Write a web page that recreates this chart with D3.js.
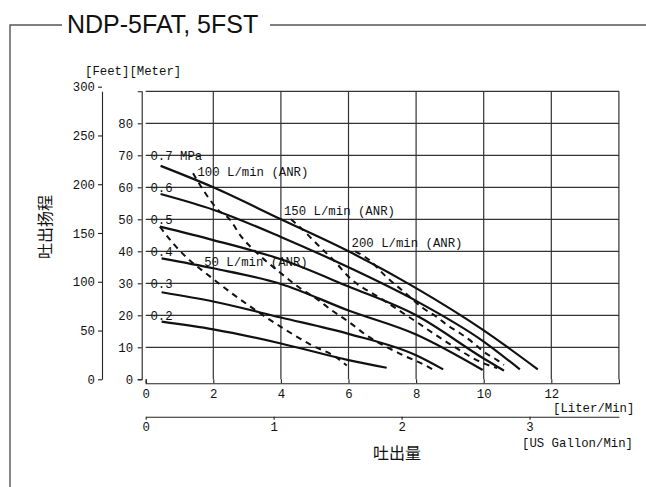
<!DOCTYPE html>
<html><head><meta charset="utf-8">
<script src="https://cdn.jsdelivr.net/npm/d3@7"></script>
<style>
html,body{margin:0;padding:0;background:#fff;}
svg{display:block;}
.mono{font-family:"Liberation Mono","DejaVu Sans Mono",monospace;font-size:13px;fill:#111;}
</style></head>
<body>
<svg id="chart" width="646" height="487"></svg>
<script>
// ---- data (flow L/min, head m) ----
const title = "NDP-5FAT, 5FST";
const pressureNames = ["0.7 MPa", "0.6", "0.5", "0.4", "0.3", "0.2"];
const pressureLabelHeads = [70, 60, 50, 40, 30, 20];
const p07 = [[0.44,66.7],[2,60],[4,50],[6,40],[8,28.5],[10,15.3],[11.6,3.1]];
const p06 = [[0.44,57.9],[2,53],[4,44.5],[6,35],[8,24.5],[10,11.8],[11.07,3.1]];
const p05 = [[0.42,47.7],[2,43.5],[4,37.5],[6,29],[8,20],[10,6.5],[10.6,2.7]];
const p04 = [[0.47,37.8],[2,34.7],[4,29.8],[6,21.5],[8,14],[9.97,2.9]];
const p03 = [[0.47,27.2],[2,24.3],[4,19.3],[6,14.2],[8,7.5],[8.8,3.1]];
const p02 = [[0.47,18],[2,15.6],[4,11.2],[6,6],[7.13,3.6]];
const airNames = ["50 L/min (ANR)", "100 L/min (ANR)", "150 L/min (ANR)", "200 L/min (ANR)"];
const a50  = [[0.42,47.7],[0.8,42.6],[2.1,30.5],[3.1,22.7],[4.0,16.4],[4.9,10.7],[5.6,7.1],[5.95,4.3]];
const a100 = [[1.4,64.4],[1.8,57.6],[2.1,53.4],[2.5,49.8],[2.8,45],[3.3,39.4],[3.9,34],[4.5,29],[5.1,24.8],[5.5,21.6],[6.0,18],[6.5,14],[7.6,7.6],[8.3,4.2],[8.5,3]];
const a150 = [[4.3,50],[4.65,46.7],[4.95,43.5],[5.25,40.4],[5.65,36.2],[5.95,32.6],[7,25],[8,18],[9,11],[10,5],[10.4,3.5]];
const a200 = [[6.2,40],[6.6,37.4],[7.1,32.2],[7.7,26.8],[8.2,22.3],[8.6,19.6],[8.9,17.1],[9.3,14.4],[9.7,11.3],[10.0,8.6],[10.4,6.0],[10.6,4.5]];
const literTicks = [0,2,4,6,8,10,12];
const gallonTicks = [0,1,2,3];
const feetTicks = [0,50,100,150,200,250,300];
const meterTicks = [0,10,20,30,40,50,60,70,80];

// ---- layout ----
const airLabelPos = [[1.73,36.75],[1.53,64.9],[4.09,52.9],[6.09,42.8]];
const CH = 7.4; // character advance of the narrow gothic labels
const svg = d3.select("#chart");
const xL = d3.scaleLinear().domain([0,14]).range([145.7,618.9]);
const xG = d3.scaleLinear().domain([0,14/3.78541]).range([145.7,618.9]);
const yM = d3.scaleLinear().domain([0,90]).range([379.3,91.3]);
const yF = d3.scaleLinear().domain([0,90*3.28084]).range([379.3,91.3]);

function fit(sel){
  sel.each(function(){
    const t = d3.select(this);
    const n = t.text().length;
    t.attr("textLength", n*CH).attr("lengthAdjust","spacingAndGlyphs");
  });
}

// frame
svg.append("path").attr("d","M10,487V25H62M270,25H646")
  .attr("fill","none").attr("stroke","#555").attr("stroke-width",1.4);
svg.append("text").attr("x",67).attr("y",33).text(title)
  .attr("font-family","Liberation Sans, Arial, sans-serif").attr("font-size",25).attr("fill","#111");

// grid
const g = svg.append("g").attr("stroke","#333").attr("stroke-width",1.2);
d3.range(10,91,10).forEach(m=>{
  g.append("line").attr("x1",xL(0)).attr("x2",xL(14)).attr("y1",yM(m)).attr("y2",yM(m));
});
d3.range(2,15,2).forEach(l=>{
  g.append("line").attr("x1",xL(l)).attr("x2",xL(l)).attr("y1",yM(0)).attr("y2",yM(90));
});

function styleAxis(sel){
  sel.selectAll("path,line").attr("stroke","#222").attr("stroke-width",1.1);
  sel.selectAll("text").attr("class","mono").attr("font-family",null).attr("font-size",null).attr("fill",null).call(fit);
}
// feet axis
svg.append("g").attr("transform","translate(102,0)")
  .call(d3.axisLeft(yF).tickValues(feetTicks).tickSize(4).tickSizeOuter(0).tickPadding(3))
  .call(styleAxis);
// meter axis
svg.append("g").attr("transform","translate(141.7,0)")
  .call(d3.axisLeft(yM).tickValues(meterTicks).tickSize(4).tickSizeOuter(4).tickPadding(4.6))
  .call(styleAxis);
// liter axis
svg.append("g").attr("transform","translate(0,383.3)")
  .call(d3.axisBottom(xL).tickValues(literTicks).tickSize(-4).tickSizeOuter(-4).tickPadding(5))
  .call(styleAxis);
// gallon axis
svg.append("g").attr("transform","translate(0,416.7)")
  .call(d3.axisBottom(xG).tickValues(gallonTicks).tickFormat(d3.format("d")).tickSize(3).tickSizeOuter(0).tickPadding(2))
  .call(styleAxis);

// axis titles
svg.append("text").attr("class","mono").attr("x",85).attr("y",75).text("[Feet][Meter]").call(fit);
svg.append("text").attr("class","mono").attr("x",553).attr("y",412).text("[Liter/Min]").call(fit);
svg.append("text").attr("class","mono").attr("x",522).attr("y",447).text("[US Gallon/Min]").call(fit);
svg.append("text").attr("x",397).attr("y",459).attr("text-anchor","middle")
  .attr("font-family","Noto Sans CJK SC").attr("font-size",16).attr("fill","#111").text("吐出量");
svg.append("text").attr("transform","translate(51,227) rotate(-90)").attr("text-anchor","middle")
  .attr("font-family","Noto Sans CJK SC").attr("font-size",16).attr("fill","#111").text("吐出扬程");

// curves
const line = d3.line().x(d=>xL(d[0])).y(d=>yM(d[1])).curve(d3.curveMonotoneX);
[p07,p06,p05,p04,p03,p02].forEach(s=>{
  svg.append("path").attr("d",line(s)).attr("fill","none").attr("stroke","#111").attr("stroke-width",2.2);
});
[a50,a100,a150,a200].forEach(s=>{
  svg.append("path").attr("d",line(s)).attr("fill","none").attr("stroke","#111")
    .attr("stroke-width",2).attr("stroke-dasharray","6,5");
});

// labels
pressureNames.forEach((t,i)=>{
  svg.append("text").attr("class","mono").attr("x",xL(0.14)).attr("y",yM(pressureLabelHeads[i]))
    .attr("dy","0.35em").text(t).call(fit);
});
airNames.forEach((t,i)=>{
  svg.append("text").attr("class","mono").attr("x",xL(airLabelPos[i][0])).attr("y",yM(airLabelPos[i][1]))
    .attr("dy","0.35em").text(t).call(fit);
});
</script>
</body></html>
